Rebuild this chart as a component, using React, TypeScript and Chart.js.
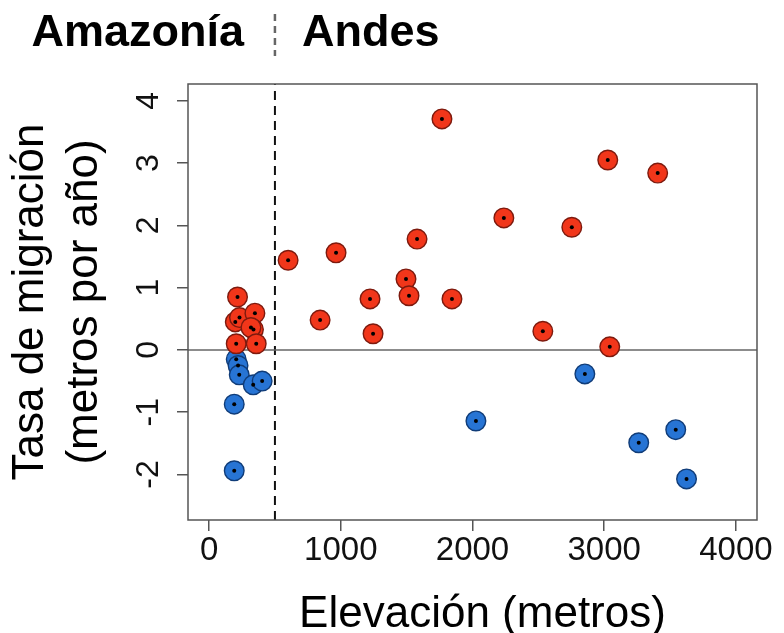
import React, { useEffect, useRef } from "react";
import { Chart, registerables } from "chart.js";

Chart.register(...registerables);

// ---- data ----
const RED_X = [1768, 3027, 3406, 2238, 2754, 1579, 964, 600, 1495, 1518, 1222, 1844, 843, 1245, 2534, 3042, 216, 199, 231, 348, 337, 318, 206, 358];
const RED_Y = [3.71, 3.05, 2.84, 2.12, 1.97, 1.78, 1.56, 1.44, 1.14, 0.87, 0.82, 0.82, 0.48, 0.26, 0.3, 0.05, 0.85, 0.45, 0.52, 0.59, 0.33, 0.36, 0.1, 0.1];
const BLUE_X = [2853, 2026, 3262, 3543, 3625, 191, 191, 206, 220, 229, 335, 403];
const BLUE_Y = [-0.385, -1.14, -1.49, -1.28, -2.07, -1.94, -0.87, -0.15, -0.25, -0.4, -0.56, -0.5];
const X_TICKS = [0, 1000, 2000, 3000, 4000];
const Y_TICKS = [-2, -1, 0, 1, 2, 3, 4];
const X_MIN = -160;
const X_MAX = 4160;
const Y_MIN = -2.73;
const Y_MAX = 4.27;
const BOUNDARY_ELEV = 500;
const ZERO_RATE = 0;
const REGION_LEFT = "Amazonía";
const REGION_RIGHT = "Andes";
const X_TITLE = "Elevación (metros)";
const Y_TITLE = ["Tasa de migración", "(metros por año)"];

const FAMILY = '"Liberation Sans", Arial, Helvetica, sans-serif';

const toPts = (xs: number[], ys: number[]) => xs.map((x, i) => ({ x, y: ys[i] }));

const decor = {
  id: "decor",
  afterDraw(chart: any) {
    const { ctx, chartArea, scales } = chart;
    const { left, top, right, bottom } = chartArea;
    ctx.save();
    ctx.strokeStyle = "#555";
    ctx.lineWidth = 1.5;
    ctx.strokeRect(left, top, right - left, bottom - top);
    const xp = scales.x.getPixelForValue(BOUNDARY_ELEV);
    ctx.setLineDash([7, 5]);
    ctx.strokeStyle = "#666";
    ctx.lineWidth = 2.5;
    ctx.beginPath();
    ctx.moveTo(xp, 14);
    ctx.lineTo(xp, 56);
    ctx.stroke();
    ctx.setLineDash([]);
    ctx.fillStyle = "#000";
    ctx.font = `bold 45px ${FAMILY}`;
    ctx.textBaseline = "alphabetic";
    ctx.textAlign = "right";
    ctx.fillText(REGION_LEFT, xp - 31, 46);
    ctx.textAlign = "left";
    ctx.fillText(REGION_RIGHT, xp + 27, 46);
    // x-axis title
    ctx.font = `44px ${FAMILY}`;
    ctx.textAlign = "center";
    ctx.fillText(X_TITLE, (left + right) / 2 + 10, 627);
    ctx.restore();
  },
};

export default function App() {
  const ref = useRef<HTMLCanvasElement | null>(null);
  useEffect(() => {
    if (!ref.current) return;
    Chart.defaults.font.family = FAMILY;
    const red = toPts(RED_X, RED_Y);
    const blue = toPts(BLUE_X, BLUE_Y);
    const chart = new Chart(ref.current, {
      type: "scatter",
      data: {
        datasets: [
          {
            label: "centros",
            data: [...red, ...blue],
            pointRadius: 2,
            pointBackgroundColor: "#000",
            pointBorderWidth: 0,
            order: 0,
          } as any,
          {
            label: "positiva",
            data: red,
            pointRadius: 9.8,
            backgroundColor: "#f1361a",
            borderColor: "#7d1a0e",
            borderWidth: 1.4,
            order: 1,
          },
          {
            label: "negativa",
            data: blue,
            pointRadius: 9.8,
            backgroundColor: "#2774d4",
            borderColor: "#103c78",
            borderWidth: 1.4,
            order: 1,
          },
          {
            label: "cero",
            data: [
              { x: X_MIN, y: ZERO_RATE },
              { x: X_MAX, y: ZERO_RATE },
            ],
            showLine: true,
            borderColor: "#666",
            borderWidth: 1.5,
            pointRadius: 0,
            order: 2,
          },
          {
            label: "límite",
            data: [
              { x: BOUNDARY_ELEV, y: Y_MIN },
              { x: BOUNDARY_ELEV, y: Y_MAX },
            ],
            showLine: true,
            borderColor: "#111",
            borderWidth: 2,
            borderDash: [9, 6],
            pointRadius: 0,
            order: 2,
          },
        ],
      },
      options: {
        animation: false,
        responsive: true,
        maintainAspectRatio: false,
        events: [],
        layout: { padding: { top: 84, right: 27, left: 0, bottom: 0 } },
        plugins: { legend: { display: false }, tooltip: { enabled: false } },
        scales: {
          x: {
            type: "linear",
            min: X_MIN,
            max: X_MAX,
            afterBuildTicks: (s: any) => {
              s.ticks = X_TICKS.map((v) => ({ value: v }));
            },
            afterFit: (s: any) => {
              s.height = 113;
            },
            border: { display: false },
            grid: { drawOnChartArea: false, drawTicks: true, tickLength: 11, color: "#555", lineWidth: 1.5 },
            ticks: { font: { size: 33 }, color: "#111", padding: 0, callback: (v: any) => String(v) },
            title: { display: false, text: X_TITLE },
          },
          y: {
            type: "linear",
            min: Y_MIN,
            max: Y_MAX,
            afterBuildTicks: (s: any) => {
              s.ticks = Y_TICKS.map((v) => ({ value: v }));
            },
            afterFit: (s: any) => {
              s.width = 188;
            },
            border: { display: false },
            grid: { drawOnChartArea: false, drawTicks: true, tickLength: 11, color: "#555", lineWidth: 1.5 },
            ticks: {
              font: { size: 32 },
              color: "#111",
              minRotation: 90,
              maxRotation: 90,
              crossAlign: "center",
              padding: 14,
              callback: (v: any) => String(v),
            },
            title: {
              display: true,
              text: Y_TITLE,
              color: "#000",
              font: { size: 44, lineHeight: 1.22 },
              padding: { top: 4, bottom: 0 },
            },
          },
        },
      } as any,
      plugins: [decor],
    });
    return () => chart.destroy();
  }, []);
  return (
    <div style={{ position: "absolute", left: 0, top: 0, width: 784, height: 633 }}>
      <canvas ref={ref} />
    </div>
  );
}
